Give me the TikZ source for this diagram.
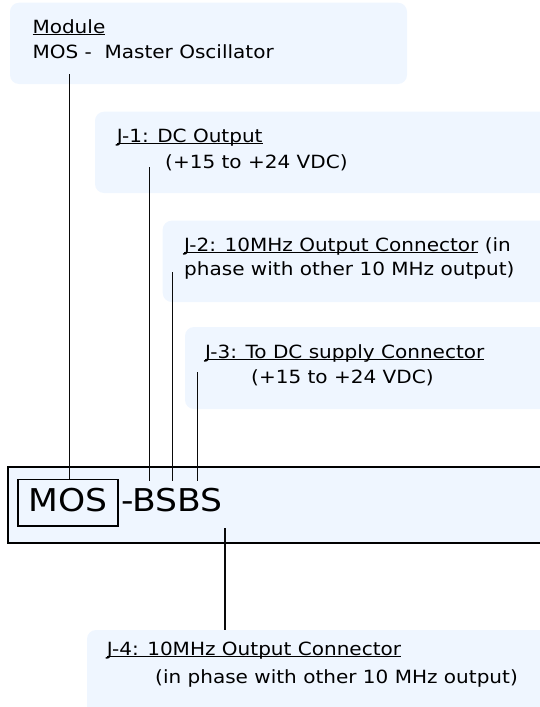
\documentclass[tikz,border=0pt]{standalone}
\usepackage{fontspec}
\setmainfont[FakeStretch=1.1]{DejaVu Sans}
\definecolor{boxfill}{RGB}{239,246,255}
\definecolor{wirecol}{RGB}{10,10,10}
\newlength\ulw
\newcommand\ulc[1]{\settowidth{\ulw}{#1}\rlap{\rule[-1.7pt]{\ulw}{1.2pt}}#1}
\begin{document}
\begin{tikzpicture}[x=1pt,y=-1pt,
  lbl/.style={fill=boxfill, draw=none, rounded corners=9pt},
  txt/.style={anchor=base west, inner sep=0pt, font=\fontsize{18.2}{22}\selectfont},
  big/.style={anchor=base west, inner sep=0pt, font=\fontsize{31.4}{36}\selectfont},
  wire/.style={line width=1.6pt, draw=wirecol},
  frame/.style={line width=1.7pt, draw=black}]
\useasboundingbox (0,0) rectangle (540,707);
\clip (0,0) rectangle (540,707);
% label boxes
\path[lbl] (10,2.7) rectangle (407,84);
\path[lbl] (95,111.7) rectangle (570,193);
\path[lbl] (162.7,220.7) rectangle (570,302);
\path[lbl] (185,327) rectangle (570,409);
\path[lbl] (87,630) rectangle (570,730);
% main box
\draw[frame, fill=boxfill] (8.3,466.7) rectangle (570,543.3);
\node[frame, minimum width=100pt, minimum height=46.7pt, inner sep=0pt] (mosbox) at (68.3,502.7) {};
\node[big] (mos) at (28.5,511.7) {MOS};
\node[big] (bsbs) at (121,511.7) {-BSBS};
% texts
\node[txt] (mod1) at (32.3,33.3) {\ulc{Module}};
\node[txt] (mod2) at (32.3,58.5) {MOS - \ Master Oscillator};
\node[txt] (j1a) at (116.7,142.3) {\ulc{J-1: DC Output}};
\node[txt] (j1b) at (165,168.3) {(+15 to +24 VDC)};
\node[txt] (j2a) at (184,251.5) {\ulc{J-2: 10MHz Output Connector} (in};
\node[txt] (j2b) at (184,275.7) {phase with other 10 MHz output)};
\node[txt] (j3a) at (205,358.3) {\ulc{J-3: To DC supply Connector}};
\node[txt] (j3b) at (251,383.3) {(+15 to +24 VDC)};
\node[txt] (j4a) at (106.7,655.5) {\ulc{J-4: 10MHz Output Connector}};
\node[txt] (j4b) at (155,683) {(in phase with other 10 MHz output)};
% connector ends
\coordinate (c0) at (69.3,74);
\coordinate (c1a) at (149.4,167);
\coordinate (c1b) at (149.4,481);
\coordinate (c2a) at (172.5,272);
\coordinate (c2b) at (172.5,480.5);
\coordinate (c3a) at (197.6,372);
\coordinate (c3b) at (197.6,481);
\coordinate (c4a) at (224.8,528);
\coordinate (c4b) at (224.8,630);
\draw[wire] (c0) -- (c0 |- mosbox.north);
\draw[wire] (c1a) -- (c1b);
\draw[wire] (c2a) -- (c2b);
\draw[wire] (c3a) -- (c3b);
\draw[wire] (c4a) -- (c4b);
\end{tikzpicture}
\end{document}
